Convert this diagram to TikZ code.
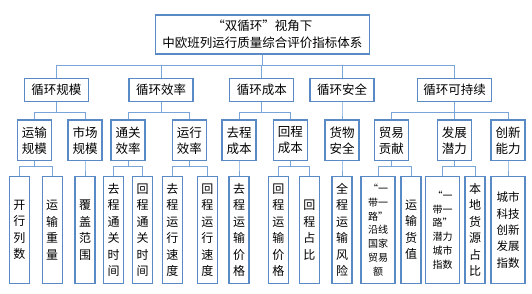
\documentclass[tikz,border=0pt]{standalone}
\usepackage{fontspec}
\newfontfamily\cjk{Noto Sans CJK SC}
\usetikzlibrary{positioning}
\definecolor{boxblue}{HTML}{5A8AC6}
\definecolor{linkblue}{HTML}{7AA5D8}
\tikzset{line width=.8pt,
  box/.style={draw=boxblue,line width=1.1pt,fill=white,inner sep=0pt,align=center,
    font=\cjk\fontsize{12.5}{16}\selectfont},
  topbox/.style={box,minimum width=214pt,minimum height=39pt,font=\cjk\fontsize{12.5}{17.5}\selectfont},
  catbox/.style={box,minimum width=64pt,minimum height=22.7pt},
  subbox/.style={box,minimum width=34pt,minimum height=40.7pt},
  leafbox/.style={box,minimum width=20pt,minimum height=106.6pt,font=\cjk\fontsize{12}{16.5}\selectfont},
  wideleaf/.style={leafbox,minimum width=34pt,font=\cjk\fontsize{10}{13.8}\selectfont},
  link/.style={draw=linkblue,line width=1pt}}
\begin{document}
\begin{tikzpicture}[x=1pt,y=-1pt]
\useasboundingbox (0,0) rectangle (532,293);
\node[topbox] (root) at (262.3,34.5) {“双循环”视角下\\中欧班列运行质量综合评价指标体系};
\node[catbox] (scale) at (56.3,89.7) {循环规模};
\node[catbox] (eff) at (161,89.7) {循环效率};
\node[catbox] (cost) at (261.8,89.7) {循环成本};
\node[catbox] (safe) at (342,89.7) {循环安全};
\node[catbox,minimum width=73.6pt] (sust) at (454.5,89.7) {循环可持续};
\node[subbox] (transc) at (34.3,140.3) {运输\\规模};
\node[subbox] (market) at (85,140.3) {市场\\规模};
\node[subbox] (customs) at (128,140.3) {通关\\效率};
\node[subbox] (running) at (189.3,140.3) {运行\\效率};
\node[subbox] (outcost) at (239,140.3) {去程\\成本};
\node[subbox] (retcost) at (290.3,140.3) {回程\\成本};
\node[subbox] (goods) at (342,140.3) {货物\\安全};
\node[subbox] (trade) at (391.3,140.3) {贸易\\贡献};
\node[subbox] (potential) at (454.3,140.3) {发展\\潜力};
\node[subbox] (innov) at (508,140.3) {创新\\能力};
\node[leafbox] (trains) at (19.3,230) {开\\行\\列\\数};
\node[leafbox] (weight) at (52.2,230) {运\\输\\重\\量};
\node[leafbox] (coverage) at (85,230) {覆\\盖\\范\\围};
\node[leafbox] (outclear) at (113.7,230) {去\\程\\通\\关\\时\\间};
\node[leafbox] (retclear) at (142.7,230) {回\\程\\通\\关\\时\\间};
\node[leafbox] (outspeed) at (172.3,230) {去\\程\\运\\行\\速\\度};
\node[leafbox] (retspeed) at (207.3,230) {回\\程\\运\\行\\速\\度};
\node[leafbox] (outprice) at (239,230) {去\\程\\运\\输\\价\\格};
\node[leafbox] (retprice) at (278.3,230) {回\\程\\运\\输\\价\\格};
\node[leafbox] (retshare) at (309.3,230) {回\\程\\占\\比};
\node[leafbox] (risk) at (342,230) {全\\程\\运\\输\\风\\险};
\node[wideleaf] (brtrade) at (378,230) {“一\\带一\\路”\\沿线\\国家\\贸易\\额};
\node[leafbox] (value) at (411,230) {运\\输\\货\\值};
\node[wideleaf] (brcity) at (442.7,230) {“一\\带一\\路”\\潜力\\城市\\指数};
\node[leafbox] (local) at (475,230) {本\\地\\货\\源\\占\\比};
\node[wideleaf,font=\cjk\fontsize{11.5}{16.3}\selectfont] (techidx) at (508,230) {城市\\科技\\创新\\发展\\指数};
\foreach \c in {scale,eff,cost,safe,sust} \draw[link] (root.south) -- ++(0,11.3) -| (\c.north);
\foreach \p/\c in {scale/transc,scale/market,eff/customs,eff/running,cost/outcost,cost/retcost,
  safe/goods,sust/trade,sust/potential,sust/innov}
  \draw[link] (\p.south) -- ++(0,11.3) -| (\c.north);
\foreach \p/\c in {transc/trains,transc/weight,market/coverage,customs/outclear,customs/retclear,
  running/outspeed,running/retspeed,outcost/outprice,retcost/retprice,retcost/retshare,goods/risk,
  trade/brtrade,trade/value,potential/brcity,potential/local,innov/techidx}
  \draw[link] (\p.south) -- ++(0,5) -| (\c.north);
\end{tikzpicture}
\end{document}
